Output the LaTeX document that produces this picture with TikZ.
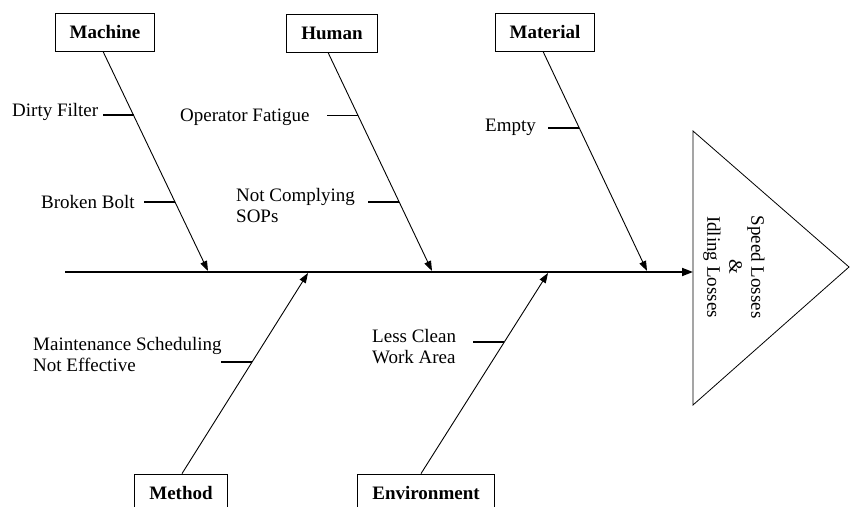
\documentclass[tikz,border=0pt]{standalone}
\usepackage{fontspec}
\setmainfont{Liberation Serif}
\usetikzlibrary{arrows.meta,positioning,calc}

\newcommand{\labelfont}{\fontsize{19}{21}\selectfont}

\begin{document}
\begin{tikzpicture}[x=1pt,y=1pt,
  every node/.style={font=\labelfont},
  cat/.style={draw,line width=0.8pt,font=\labelfont\bfseries,
    inner xsep=14.5pt,inner ysep=0pt,minimum height=38pt},
  bone/.style={line width=0.9pt,-{Triangle[length=10pt,width=7pt]}},
  spine/.style={line width=1.8pt,-{Triangle[length=11pt,width=8pt]}},
  tick/.style={line width=1.6pt},
  cause/.style={align=left,anchor=west,inner sep=0pt}]
  \useasboundingbox (0,0) rectangle (850,506);
  \clip (0,0) rectangle (850,506);
  % Effect head
  \coordinate (t1) at (693,375);
  \coordinate (t2) at (849,239);
  \coordinate (t3) at (693,101);
  \draw[line width=0.8pt] (t1) -- (t2) -- (t3) -- cycle;
  \node[rotate=-90,align=center,font=\fontsize{19}{22}\selectfont] (effect)
    at (734,239) {Speed Losses\\\&\\Idling Losses};
  % Spine
  \coordinate (tail) at (65,234);
  \coordinate (head) at (693,234);
  \draw[spine] (tail) -- (head);
  % Categories
  \node[cat] (machine) at (105,474) {Machine};
  \node[cat] (human) at (332,473) {Human};
  \node[cat] (material) at (545,474) {Material};
  \node[cat] (method) at (181,13) {Method};
  \node[cat] (environment) at (426,13) {Environment};
  % Bones
  \coordinate (jmachine) at (208,235);
  \coordinate (jhuman) at (432,235);
  \coordinate (jmaterial) at (647,235);
  \coordinate (jmethod) at (308,233);
  \coordinate (jenvironment) at (548,233);
  \draw[bone] ([xshift=-2pt]machine.south) -- (jmachine)
    coordinate[pos=0.291] (dirty) coordinate[pos=0.686] (bolt);
  \draw[bone] ([xshift=-4pt]human.south) -- (jhuman)
    coordinate[pos=0.288] (fatigue) coordinate[pos=0.685] (sops);
  \draw[bone] ([xshift=-2pt]material.south) -- (jmaterial)
    coordinate[pos=0.35] (empty);
  \draw[bone] ([xshift=1pt]method.north) -- (jmethod)
    coordinate[pos=0.557] (sched);
  \draw[bone] ([xshift=-5pt]environment.north) -- (jenvironment)
    coordinate[pos=0.657] (clean);
  % Causes
  \foreach \c in {dirty,bolt,fatigue,sops,empty,sched,clean}
    \draw[tick] (\c) -- ++(-31,0);
  \node[cause] (dirtylbl) at (12,394) {Dirty Filter};
  \node[cause] (boltlbl) at (41,304) {Broken Bolt};
  \node[cause] (fatiguelbl) at (180,389) {Operator Fatigue};
  \node[cause] (sopslbl) at (236,300) {Not Complying\\SOPs};
  \node[cause] (emptylbl) at (485,379) {Empty};
  \node[cause] (schedlbl) at (33,151) {Maintenance Scheduling\\Not Effective};
  \node[cause] (cleanlbl) at (372,159) {Less Clean\\Work Area};
\end{tikzpicture}
\end{document}
